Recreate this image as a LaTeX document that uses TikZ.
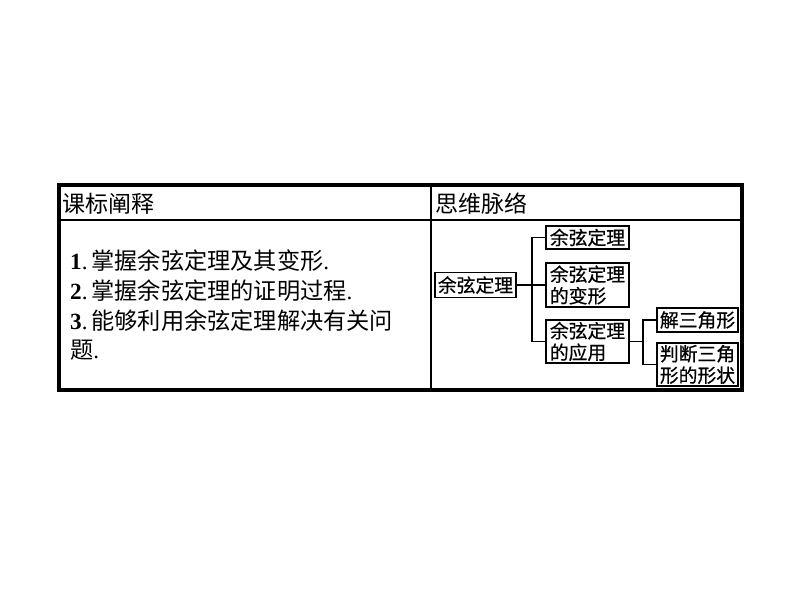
\documentclass[tikz,border=0pt]{standalone}
\usepackage{fontspec}
\setmainfont{Liberation Serif}
\newfontfamily\cjk{Noto Sans CJK SC}
\newfontfamily\cjkm[FakeBold=0.6]{Noto Sans CJK SC}
\begin{document}
\begin{tikzpicture}[x=1pt,y=-1pt,
  bodytext/.style={anchor=west,inner sep=0pt,font=\fontsize{23.2}{23.2}\selectfont},
  headtext/.style={anchor=west,inner sep=0pt,font=\fontsize{23}{23}\selectfont\cjk},
  mapbox/.style={draw,line width=1.8pt,inner sep=1.5pt,align=left,
    font=\fontsize{18.8}{21.5}\selectfont\cjkm},
  conn/.style={line width=1.8pt}]
\useasboundingbox (0,0) rectangle (794,596);
% table frame
\draw[line width=1.8pt] (431,185) -- (431,390);
\draw[line width=1.8pt] (59,220) -- (742,220);
\draw[line width=4pt] (59,185) rectangle (742,390);
% headers
\node[headtext] (h1) at (62,204) {课标阐释};
\node[headtext] (h2) at (435,204) {思维脉络};
% body text
\node[bodytext] (l1) at (70,261) {\textbf{1}.\,{\cjk 掌握余弦定理及其变形}.};
\node[bodytext] (l2) at (70,291) {\textbf{2}.\,{\cjk 掌握余弦定理的证明过程}.};
\node[bodytext] (l3) at (70,321) {\textbf{3}.\,{\cjk 能够利用余弦定理解决有关问}};
\node[bodytext] (l4) at (70,350) {{\cjk 题}.};
% mind map
\node[mapbox,minimum width=81pt,minimum height=25pt] (main) at (475.5,285) {余弦定理};
\node[mapbox,minimum width=83pt,minimum height=23pt] (c1) at (587.5,237.5) {余弦定理};
\node[mapbox,minimum width=83pt,minimum height=44pt] (c2) at (587.5,285) {余弦定理\\的变形};
\node[mapbox,minimum width=83pt,minimum height=43pt] (c3) at (587.5,341.5) {余弦定理\\的应用};
\node[mapbox,minimum width=81pt,minimum height=24pt] (d1) at (697.5,320) {解三角形};
\node[mapbox,minimum width=81pt,minimum height=43pt] (d2) at (697.5,364.5) {判断三角\\形的形状};
\coordinate (j1) at (532,285);
\coordinate (j2) at (643,342);
\draw[conn] (main.east) -- (c2.west);
\draw[conn] (c1.west) -- (c1.west -| j1) -- (c3.west -| j1) -- (c3.west);
\draw[conn] (c3.east) -- (c3.east -| j2);
\draw[conn] (d1.west) -- (d1.west -| j2) -- (d2.west -| j2) -- (d2.west);
\end{tikzpicture}
\end{document}
